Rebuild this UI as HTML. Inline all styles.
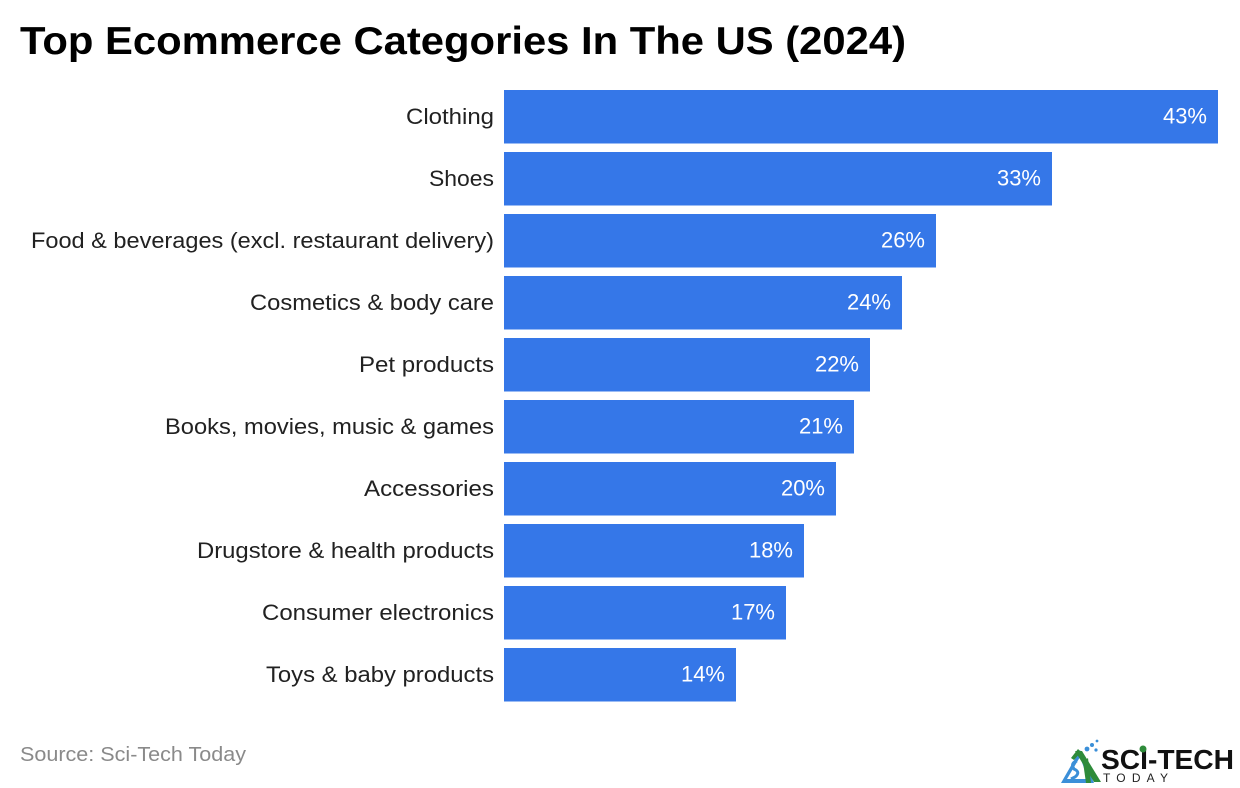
<!DOCTYPE html>
<html>
<head>
<meta charset="utf-8">
<style>
  html,body{margin:0;padding:0;background:#ffffff;}
  body{width:1240px;height:788px;overflow:hidden;}
  svg{display:block;}
  .cat{font-family:"Liberation Sans",sans-serif;font-size:22.5px;fill:#212121;}
  .val{font-family:"Liberation Sans",sans-serif;font-size:22px;fill:#ffffff;}
</style>
</head>
<body>
<svg width="1240" height="788" viewBox="0 0 1240 788" xmlns="http://www.w3.org/2000/svg">
  <rect width="1240" height="788" fill="#ffffff"/>
  <text x="20" y="54" font-family="Liberation Sans, sans-serif" font-weight="bold" font-size="39" fill="#000" textLength="886" lengthAdjust="spacingAndGlyphs">Top Ecommerce Categories In The US (2024)</text>

  <g fill="#3577e8">
    <rect x="504" y="90" width="714" height="53.5"/>
    <rect x="504" y="152" width="548" height="53.5"/>
    <rect x="504" y="214" width="432" height="53.5"/>
    <rect x="504" y="276" width="398" height="53.5"/>
    <rect x="504" y="338" width="366" height="53.5"/>
    <rect x="504" y="400" width="350" height="53.5"/>
    <rect x="504" y="462" width="332" height="53.5"/>
    <rect x="504" y="524" width="300" height="53.5"/>
    <rect x="504" y="586" width="282" height="53.5"/>
    <rect x="504" y="648" width="232" height="53.5"/>
  </g>

  <g class="cat" text-anchor="end">
    <text x="494" y="124" textLength="88" lengthAdjust="spacingAndGlyphs">Clothing</text>
    <text x="494" y="186" textLength="65" lengthAdjust="spacingAndGlyphs">Shoes</text>
    <text x="494" y="248" textLength="463" lengthAdjust="spacingAndGlyphs">Food &amp; beverages (excl. restaurant delivery)</text>
    <text x="494" y="310" textLength="244" lengthAdjust="spacingAndGlyphs">Cosmetics &amp; body care</text>
    <text x="494" y="372" textLength="135" lengthAdjust="spacingAndGlyphs">Pet products</text>
    <text x="494" y="434" textLength="329" lengthAdjust="spacingAndGlyphs">Books, movies, music &amp; games</text>
    <text x="494" y="496" textLength="130" lengthAdjust="spacingAndGlyphs">Accessories</text>
    <text x="494" y="558" textLength="297" lengthAdjust="spacingAndGlyphs">Drugstore &amp; health products</text>
    <text x="494" y="620" textLength="232" lengthAdjust="spacingAndGlyphs">Consumer electronics</text>
    <text x="494" y="682" textLength="228" lengthAdjust="spacingAndGlyphs">Toys &amp; baby products</text>
  </g>

  <g class="val" text-anchor="end">
    <text x="1207" y="123.5">43%</text>
    <text x="1041" y="185.5">33%</text>
    <text x="925" y="247.5">26%</text>
    <text x="891" y="309.5">24%</text>
    <text x="859" y="371.5">22%</text>
    <text x="843" y="433.5">21%</text>
    <text x="825" y="495.5">20%</text>
    <text x="793" y="557.5">18%</text>
    <text x="775" y="619.5">17%</text>
    <text x="725" y="681.5">14%</text>
  </g>

  <text x="20" y="761" font-family="Liberation Sans, sans-serif" font-size="20" fill="#8a8a8a" textLength="226" lengthAdjust="spacingAndGlyphs">Source: Sci-Tech Today</text>

  <!-- Logo -->
  <g>
    <polygon points="1061,783 1080,750 1094,783" fill="#3b8fd8"/>
    <polygon points="1067,779 1080,757 1088,779" fill="#ffffff"/>
    <path d="M1077,761 q-7,2 -3,8 q7,3 1,8 l-4,2" stroke="#3b8fd8" stroke-width="3" fill="none"/>
    <polygon points="1075,751 1082,751 1101,782 1094,782" fill="#2e8b3a"/>
    <polygon points="1083,762 1088,758 1091,783 1086,783" fill="#2e8b3a"/>
    <polygon points="1071,758 1078,749 1081,752 1074,760" fill="#2e8b3a"/>
    <circle cx="1087" cy="749" r="2.4" fill="#3b8fd8"/>
    <circle cx="1092" cy="745" r="2" fill="#3b8fd8"/>
    <circle cx="1096" cy="750" r="1.6" fill="#3b8fd8"/>
    <circle cx="1097" cy="741" r="1.4" fill="#3b8fd8"/>
    <text x="1101" y="769" font-family="Liberation Sans, sans-serif" font-weight="bold" font-size="28" fill="#111" textLength="133" lengthAdjust="spacingAndGlyphs">SCI-TECH</text>
    <circle cx="1143" cy="749" r="3.5" fill="#2e8b3a"/>
    <text x="1103" y="782" font-family="Liberation Sans, sans-serif" font-size="12" fill="#222" textLength="65" lengthAdjust="spacing">TODAY</text>
  </g>
</svg>
</body>
</html>
